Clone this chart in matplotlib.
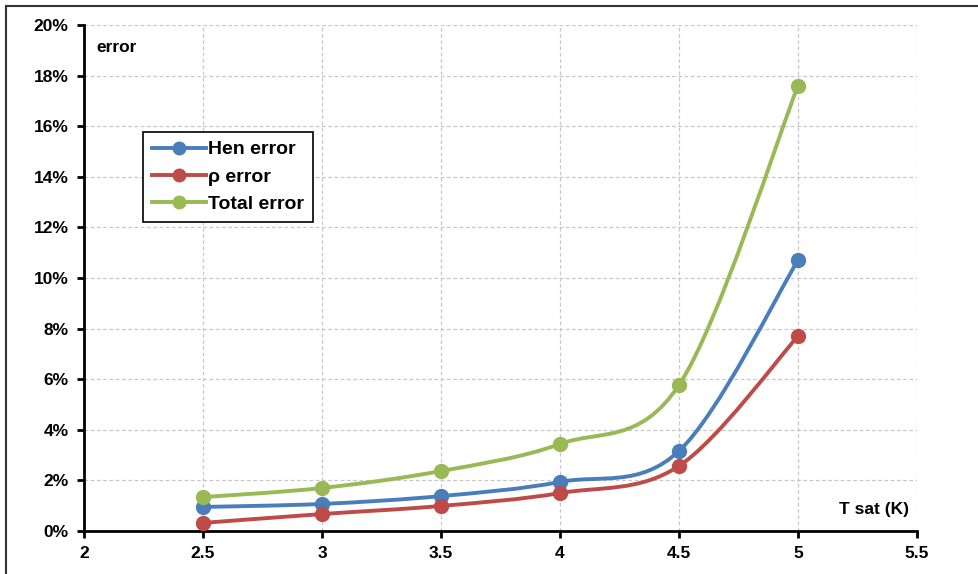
import numpy as np
import matplotlib.pyplot as plt
from matplotlib.path import Path
from matplotlib.patches import PathPatch
from matplotlib.lines import Line2D
from matplotlib.ticker import FuncFormatter, MultipleLocator

plt.rcParams['font.family'] = ['Liberation Sans', 'DejaVu Sans']
plt.rcParams['font.weight'] = 'bold'

t_sat = [2.5, 3.0, 3.5, 4.0, 4.5, 5.0]
hen_error = [0.95, 1.07, 1.38, 1.94, 3.16, 10.7]
rho_error = [0.32, 0.67, 0.99, 1.50, 2.57, 7.7]
total_error = [1.34, 1.70, 2.37, 3.44, 5.77, 17.6]

series = [
    ("Hen error", hen_error, "#4a7ebb"),
    ("\u03c1 error", rho_error, "#be4b48"),
    ("Total error", total_error, "#98b954"),
]


def smooth_path(x, y, tension=1 / 6):
    # excel-like smoothed line: cubic bezier segments through the points
    x = np.asarray(x, float)
    y = np.asarray(y, float)
    verts = [(x[0], y[0])]
    codes = [Path.MOVETO]
    n = len(x)
    for i in range(n - 1):
        x0, y0 = (x[i - 1], y[i - 1]) if i > 0 else (x[i], y[i])
        x3, y3 = (x[i + 2], y[i + 2]) if i + 2 < n else (x[i + 1], y[i + 1])
        c1 = (x[i] + (x[i + 1] - x0) * tension, y[i] + (y[i + 1] - y0) * tension)
        c2 = (x[i + 1] - (x3 - x[i]) * tension, y[i + 1] - (y3 - y[i]) * tension)
        verts += [c1, c2, (x[i + 1], y[i + 1])]
        codes += [Path.CURVE4] * 3
    return Path(verts, codes)


fig = plt.figure(figsize=(9.79, 5.74), dpi=100)
ax = fig.add_axes([84 / 979, 1 - 531 / 574, (917 - 84) / 979, (531 - 25) / 574])

# outer border (top and left visible)
fig.add_artist(Line2D([6 / 979, 1], [1 - 6 / 574, 1 - 6 / 574], color="#333333", lw=1.5))
fig.add_artist(Line2D([6 / 979, 6 / 979], [0, 1 - 6 / 574], color="#333333", lw=1.5))

handles = []
for name, vals, col in series:
    ax.add_patch(PathPatch(smooth_path(t_sat, vals), facecolor="none",
                           edgecolor=col, lw=2.8, zorder=3))
    ax.plot(t_sat, vals, "o", color=col, ms=10, zorder=4)
    handles.append(Line2D([], [], color=col, lw=2.8, marker="o", ms=9, label=name))

ax.set_xlim(2, 5.5)
ax.set_ylim(0, 20)
ax.xaxis.set_major_locator(MultipleLocator(0.5))
ax.yaxis.set_major_locator(MultipleLocator(2))
ax.xaxis.set_major_formatter(FuncFormatter(lambda v, p: f"{v:g}"))
ax.yaxis.set_major_formatter(FuncFormatter(lambda v, p: f"{v:.0f}%"))

ax.grid(True, color="#c8c8c8", ls=(0, (3, 2)), lw=0.9)
ax.set_axisbelow(True)
for s in ["top", "right"]:
    ax.spines[s].set_visible(False)
for s in ["left", "bottom"]:
    ax.spines[s].set_linewidth(2)
    ax.spines[s].set_color("black")
ax.tick_params(direction="out", length=5, width=2, labelsize=12.5, pad=6)

ax.text(0.015, 0.955, "error", transform=ax.transAxes, fontsize=12.5,
        fontweight="bold", va="center", ha="left")
ax.text(0.99, 0.043, "T sat (K)", transform=ax.transAxes, fontsize=12.5,
        fontweight="bold", va="center", ha="right")

leg = ax.legend(handles=handles, loc="upper left",
                bbox_to_anchor=(143 / 979, 1 - 132 / 574), bbox_transform=fig.transFigure,
                fancybox=False, framealpha=1, edgecolor="black", fontsize=14,
                handlelength=2.8, handletextpad=0.1, labelspacing=0.5,
                borderpad=0.45, borderaxespad=0)
leg.get_frame().set_linewidth(1.2)
for t in leg.get_texts():
    t.set_fontweight("bold")

fig.savefig("out.png", dpi=100)
